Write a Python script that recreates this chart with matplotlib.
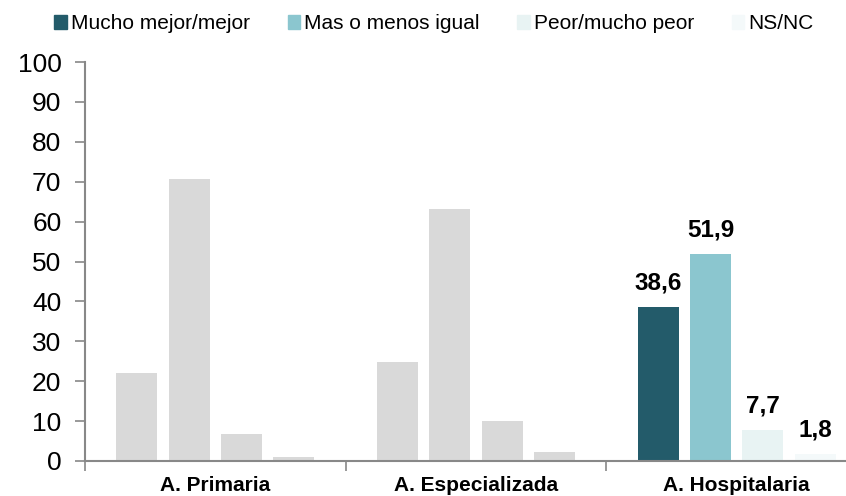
import matplotlib
matplotlib.use("Agg")
import matplotlib.pyplot as plt
import numpy as np

plt.rcParams['font.family'] = ['Liberation Sans', 'DejaVu Sans']

categories = ["A. Primaria", "A. Especializada", "A. Hospitalaria"]
series_names = ["Mucho mejor/mejor", "Mas o menos igual", "Peor/mucho peor", "NS/NC"]
mejor = [22.0, 24.9, 38.6]
igual = [70.6, 63.1, 51.9]
peor = [6.7, 10.0, 7.7]
nsnc = [1.0, 2.2, 1.8]
series = [mejor, igual, peor, nsnc]
colors = ["#235B6A", "#8BC6CF", "#E8F3F3", "#F4F9FA"]
gray = "#D9D9D9"
yticks = list(range(0, 101, 10))

fig = plt.figure(figsize=(8.46, 4.96), dpi=100)
ax = fig.add_axes([85/846, 35/496, 782/846, 399/496])

x = np.arange(len(categories))
step = 0.201
width = 0.157
offsets = [-1.5, -0.5, 0.5, 1.5]
for si, (vals, col, name) in enumerate(zip(series, colors, series_names)):
    for ci, v in enumerate(vals):
        c = col if ci == 2 else gray
        ax.bar(x[ci] + offsets[si]*step, v, width, color=c, zorder=2)
        if ci == 2:
            ax.text(x[ci] + offsets[si]*step, v + 3.2, f"{v:.1f}".replace(".", ","),
                    ha="center", va="bottom", fontsize=17.5, fontweight="bold")

ax.set_xlim(-0.5, 2.5)
ax.set_ylim(0, 100)
ax.set_yticks(yticks)
ax.set_yticklabels([str(t) for t in yticks], fontsize=19)
ax.set_xticks(x)
ax.set_xticklabels(categories, fontsize=15, fontweight="bold")
ax.tick_params(axis="x", which="major", length=0, pad=11)
ax.set_xticks([-0.5, 0.5, 1.5], minor=True)
ax.tick_params(axis="x", which="minor", length=7, color="#888888", width=1.2)
ax.tick_params(axis="y", length=7, color="#888888", width=1.2, pad=10)
for s in ["top", "right"]:
    ax.spines[s].set_visible(False)
for s in ["left", "bottom"]:
    ax.spines[s].set_color("#888888")
    ax.spines[s].set_linewidth(1.5)

handles = [plt.Rectangle((0, 0), 1, 1, color=c) for c in colors]
fig.legend(handles, series_names, loc="center", bbox_to_anchor=(0.513, 0.952), ncol=4,
           frameon=False, fontsize=15, handlelength=0.6, handleheight=0.6,
           handletextpad=0.2, columnspacing=1.8)

fig.savefig("out.png", dpi=100)
